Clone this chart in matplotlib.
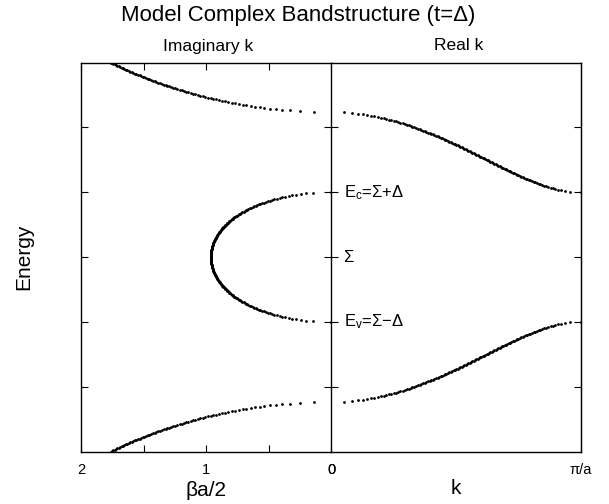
import numpy as np
import matplotlib
matplotlib.use("Agg")
import matplotlib.pyplot as plt

plt.rcParams['font.family'] = ['Liberation Sans', 'DejaVu Sans']
plt.rcParams['mathtext.fontset'] = 'custom'
plt.rcParams['mathtext.rm'] = 'Liberation Sans'
plt.rcParams['mathtext.it'] = 'Liberation Sans:italic'

# ---- model parameters (t = Delta), energies in units of Delta, Sigma = 0
SIGMA = 0.0
DELTA = 1.0
T_HOP = 1.0
E_MIN, E_MAX, E_STEP = -3.0, 3.0, 0.01

# ---- axis ticks / labels
energy_ticks = [-2, -1, 0, 1, 2]
imag_ticks = [2, 1.5, 1, 0.5, 0]
imag_ticklabels = ['2', '', '1', '', '0']
real_ticks = [0, np.pi]
real_ticklabels = ['0', 'π/a']
level_energies = [1, 0, -1]
level_labels = ['E$_\\mathrm{c}$=Σ+Δ', 'Σ', 'E$_\\mathrm{v}$=Σ−Δ']

energies = np.round(np.arange(E_MIN, E_MAX + E_STEP / 2, E_STEP), 6)
x2 = (energies - SIGMA) ** 2
c = (x2 - DELTA ** 2 - 2 * T_HOP ** 2) / (2 * T_HOP ** 2)

# real k bands: cos(ka) = c, |c| <= 1
m_real = np.abs(c) <= 1
k_real = np.arccos(np.clip(c[m_real], -1, 1))
E_real = energies[m_real]
# imaginary k (around k=0): cosh(beta a) = c, c >= 1
m_out = c >= 1
b_out = np.arccosh(c[m_out])
E_out = energies[m_out]
# imaginary k in gap (k = pi/a + i beta): cosh(beta a) = -c, c <= -1
m_gap = c <= -1
b_gap = np.arccosh(-c[m_gap])
E_gap = energies[m_gap]

fig = plt.figure(figsize=(6.09, 5.04), dpi=100)
W, H = 609, 504
left, mid, right = 81, 331, 581
top, bot = 62.5, 451.5
axl = fig.add_axes([left / W, 1 - bot / H, (mid - left) / W, (bot - top) / H])
axr = fig.add_axes([mid / W, 1 - bot / H, (right - mid) / W, (bot - top) / H])

mk = dict(ls='none', marker='o', ms=2.0, mew=0, color='black')
axl.plot(b_out, E_out, **mk)
axl.plot(b_gap, E_gap, **mk)
axr.plot(k_real, E_real, **mk)

for ax in (axl, axr):
    ax.set_ylim(-3, 3)
    ax.set_yticks(energy_ticks)
    for s in ax.spines.values():
        s.set_linewidth(1.0)

axl.set_xlim(2, 0)
axl.set_xticks(imag_ticks)
axl.set_xticklabels(imag_ticklabels, fontsize=10.5)
axl.tick_params(axis='x', direction='in', top=True, length=5, pad=8)
axl.tick_params(axis='y', direction='in', left=True, right=False, labelleft=False, length=5)
axl.spines['right'].set_visible(False)

axr.set_xlim(0, np.pi)
axr.set_xticks(real_ticks)
axr.set_xticklabels(real_ticklabels, fontsize=10.5)
axr.tick_params(axis='x', direction='in', length=0, pad=8)
# crossing ticks on the middle line
axr.tick_params(axis='y', left=True, right=False, labelleft=False,
                direction='inout', length=10)
# inward ticks on the right frame
sec = axr.secondary_yaxis('right')
sec.set_yticks(energy_ticks)
sec.tick_params(direction='in', length=5, labelright=False)

for e, lab in zip(level_energies, level_labels):
    axr.text(0.05, e, lab, fontsize=12, va='center', ha='left',
             transform=axr.get_yaxis_transform())

fig.text(206.5 / W, 1 - 490 / H, 'βa/2', fontsize=15, ha='center', va='center')
fig.text(456 / W, 1 - 489 / H, 'k', fontsize=15, ha='center', va='center')
fig.text(24 / W, 1 - 257 / H, 'Energy', fontsize=15, ha='center', va='center',
         rotation=90)

fig.text(298 / W, 1 - 16 / H, 'Model Complex Bandstructure (t=Δ)', fontsize=16,
         ha='center', va='center')
fig.text(208 / W, 1 - 46 / H, 'Imaginary k', fontsize=12.5, ha='center', va='center')
fig.text(459 / W, 1 - 46 / H, 'Real k', fontsize=12.5, ha='center', va='center')

fig.savefig('out.png', dpi=100)
